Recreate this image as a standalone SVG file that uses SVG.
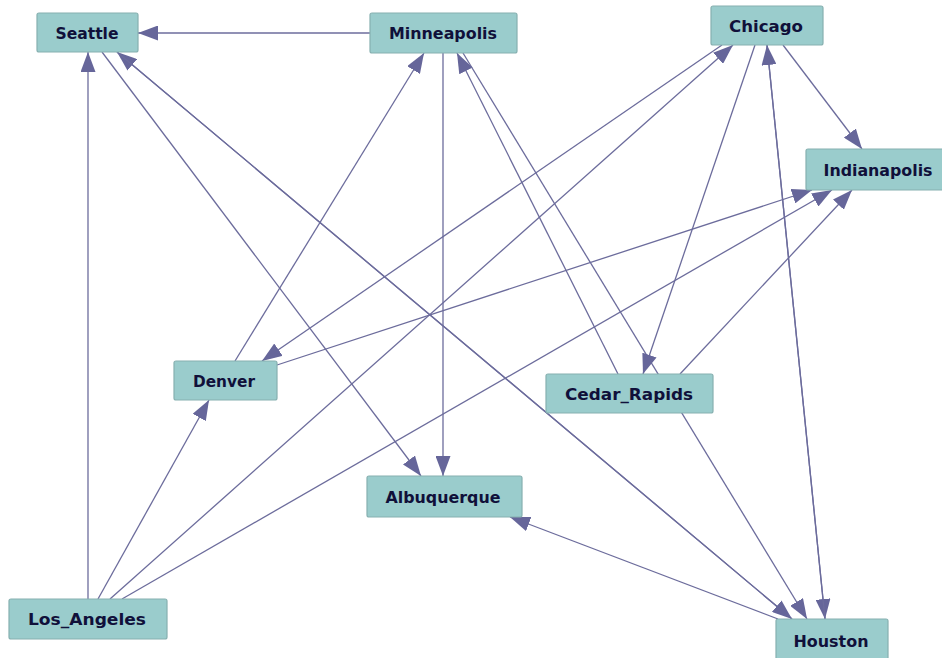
<svg xmlns="http://www.w3.org/2000/svg" width="942" height="658" viewBox="0 0 942 658">
<defs>
<marker id="arr" markerUnits="userSpaceOnUse" markerWidth="20" markerHeight="15" refX="20" refY="7.5" orient="auto" viewBox="0 0 20 15">
<path d="M0,0 L20,7.5 L0,15 z" fill="#66669a"/>
</marker>
<style>
.e{stroke:#6c6c9c;stroke-width:1.3;fill:none;marker-end:url(#arr)}
.n rect{fill:#9acccc;stroke:#86b0b0;stroke-width:1.2}
.n text{font-family:"DejaVu Sans","Verdana",sans-serif;font-weight:bold;font-size:16px;fill:#10103a;text-anchor:middle}
</style>
</defs>
<rect x="0" y="0" width="942" height="658" fill="#ffffff"/>
<g id="edges">
<line class="e" x1="370" y1="33" x2="138" y2="33"/>
<line class="e" x1="88" y1="599" x2="88" y2="52"/>
<line class="e" x1="102" y1="52" x2="421" y2="476"/>
<line class="e" x1="792" y1="619" x2="117" y2="52"/>
<line class="e" x1="117" y1="52" x2="792" y2="619"/>
<line class="e" x1="235" y1="361" x2="424" y2="53"/>
<line class="e" x1="443" y1="53" x2="443" y2="476"/>
<line class="e" x1="618" y1="374" x2="457" y2="53"/>
<line class="e" x1="463" y1="53" x2="807" y2="619"/>
<line class="e" x1="755" y1="45" x2="643" y2="374"/>
<line class="e" x1="783" y1="45" x2="862" y2="149"/>
<line class="e" x1="767" y1="45" x2="825" y2="619"/>
<line class="e" x1="825" y1="619" x2="767" y2="45"/>
<line class="e" x1="110" y1="599" x2="733" y2="45"/>
<line class="e" x1="722" y1="45" x2="262" y2="361"/>
<line class="e" x1="98" y1="599" x2="209" y2="400"/>
<line class="e" x1="277" y1="365" x2="812" y2="190"/>
<line class="e" x1="122" y1="599" x2="832" y2="190"/>
<line class="e" x1="680" y1="374" x2="852" y2="190"/>
<line class="e" x1="778" y1="619" x2="510" y2="517"/>
</g>
<g id="Seattle" class="n"><rect x="37" y="13" width="101" height="39" rx="2"/><text x="87" y="38.5" textLength="63" lengthAdjust="spacingAndGlyphs">Seattle</text></g>
<g id="Minneapolis" class="n"><rect x="370" y="13" width="147" height="40" rx="2"/><text x="443" y="39" textLength="108" lengthAdjust="spacingAndGlyphs">Minneapolis</text></g>
<g id="Chicago" class="n"><rect x="711" y="6" width="112" height="39" rx="2"/><text x="766" y="31.5" textLength="74" lengthAdjust="spacingAndGlyphs">Chicago</text></g>
<g id="Indianapolis" class="n"><rect x="806" y="149" width="146" height="41" rx="2"/><text x="878" y="175.5" textLength="109" lengthAdjust="spacingAndGlyphs">Indianapolis</text></g>
<g id="Denver" class="n"><rect x="174" y="361" width="103" height="39" rx="2"/><text x="224" y="387" textLength="62" lengthAdjust="spacingAndGlyphs">Denver</text></g>
<g id="Cedar_Rapids" class="n"><rect x="546" y="374" width="167" height="39" rx="2"/><text x="629" y="400" textLength="128" lengthAdjust="spacingAndGlyphs">Cedar_Rapids</text></g>
<g id="Albuquerque" class="n"><rect x="367" y="476" width="155" height="41" rx="2"/><text x="443" y="502.5" textLength="115" lengthAdjust="spacingAndGlyphs">Albuquerque</text></g>
<g id="Los_Angeles" class="n"><rect x="9" y="599" width="158" height="40" rx="2"/><text x="87" y="625" textLength="118" lengthAdjust="spacingAndGlyphs">Los_Angeles</text></g>
<g id="Houston" class="n"><rect x="776" y="619" width="112" height="44" rx="2"/><text x="831" y="647" textLength="75" lengthAdjust="spacingAndGlyphs">Houston</text></g>
</svg>
